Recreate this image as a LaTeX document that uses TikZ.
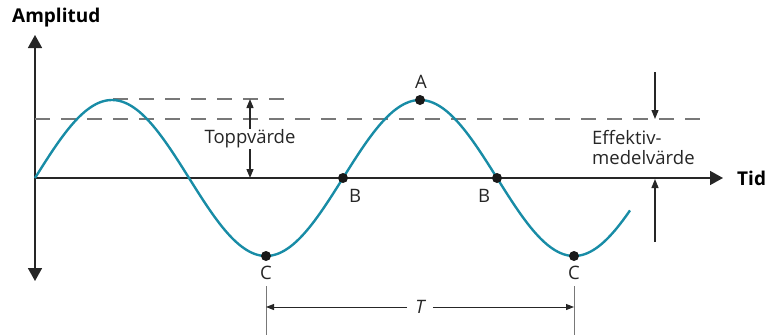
\documentclass[tikz,border=0pt]{standalone}
\usepackage{fontspec}
\setmainfont{Open Sans}
\usetikzlibrary{arrows.meta}
\definecolor{wavec}{RGB}{24,140,166}
\definecolor{axisc}{RGB}{38,38,38}
\definecolor{dashc}{RGB}{120,120,120}
\begin{document}
\begin{tikzpicture}[x=1pt,y=-1pt,
  bigaxis/.style={draw=axisc, line width=1.7pt, -{Triangle[width=14pt,length=13pt]}},
  wave/.style={draw=wavec, line width=2.4pt},
  dashline/.style={draw=dashc, line width=1.2pt, dash pattern=on 15pt off 11pt},
  smallarrow/.style={draw=axisc, line width=1.3pt, -{Triangle[width=7pt,length=9pt]}},
  dimline/.style={draw=dashc, line width=1pt},
  dimarrow/.style={draw=axisc, line width=1pt, -{Triangle[width=6pt,length=8pt]}},
  dot/.style={circle, fill=black!90, inner sep=0pt, minimum size=10pt},
  lbl/.style={font=\fontsize{18.5}{20}\selectfont, text=axisc, inner sep=1pt},
  boldlbl/.style={font=\fontsize{19}{21}\selectfont\bfseries, text=black, inner sep=1pt}]
\useasboundingbox (0,0) rectangle (768,335);

% axes
\coordinate (O) at (35,178);
\coordinate (ytop) at (35,35);
\coordinate (ybot) at (35,281);
\coordinate (xend) at (723,178);
\draw[bigaxis] (O) -- (ytop);
\draw[bigaxis] (O) -- (ybot);
\draw[bigaxis, line width=1.5pt] (O) -- (xend);
\node[boldlbl, anchor=west] (tid) at (736,178) {Tid};
\node[boldlbl, anchor=west] (amp) at (11,18) {Amplitud};

% dashed levels
\coordinate (pk1) at (113,99);
\coordinate (pkend) at (292,99);
\coordinate (eff0) at (35,119);
\coordinate (effend) at (706,119);
\draw[dashline] (pk1) -- (pkend);
\draw[dashline] (eff0) -- (effend);

% sine wave
\draw[wave] plot[domain=0:595, samples=240, smooth] ({35+\x}, {178-78*sin(\x/308*360)});

% points
\node[dot] (A) at (420,100) {};
\node[dot] (B1) at (343,178) {};
\node[dot] (B2) at (497,178) {};
\node[dot] (C1) at (266,256) {};
\node[dot] (C2) at (574,256) {};
\node[lbl] (Al) at (421,82) {A};
\node[lbl] (B1l) at (355,196) {B};
\node[lbl] (B2l) at (484,196) {B};
\node[lbl] (C1l) at (266,273) {C};
\node[lbl] (C2l) at (574,273) {C};

% Toppvärde
\node[lbl] (topp) at (250,139) {Toppvärde};
\coordinate (tp1) at (250,99);
\coordinate (tp0) at (250,178);
\draw[smallarrow] (topp.north) -- (tp1);
\draw[smallarrow] (topp.south) -- (tp0);

% Effektivmedelvärde
\node[lbl, align=left, anchor=west, font=\fontsize{18.5}{20}\selectfont] (eff) at (591,148) {Effektiv-\\medelvärde};
\coordinate (e1) at (655,72);
\coordinate (e1t) at (655,119);
\coordinate (e2) at (655,242);
\coordinate (e2t) at (655,179);
\draw[smallarrow] (e1) -- (e1t);
\draw[smallarrow] (e2) -- (e2t);

% period T
\coordinate (t1a) at (266,286);
\coordinate (t1b) at (266,335);
\coordinate (t2a) at (574,286);
\coordinate (t2b) at (574,335);
\draw[dimline] (t1a) -- (t1b);
\draw[dimline] (t2a) -- (t2b);
\node[lbl, font=\fontsize{18.5}{20}\selectfont\itshape, inner sep=8pt] (T) at (420,307) {T};
\coordinate (tl) at (266,307);
\coordinate (tr) at (574,307);
\draw[dimarrow] (T.west) -- (tl);
\draw[dimarrow] (T.east) -- (tr);
\end{tikzpicture}
\end{document}
